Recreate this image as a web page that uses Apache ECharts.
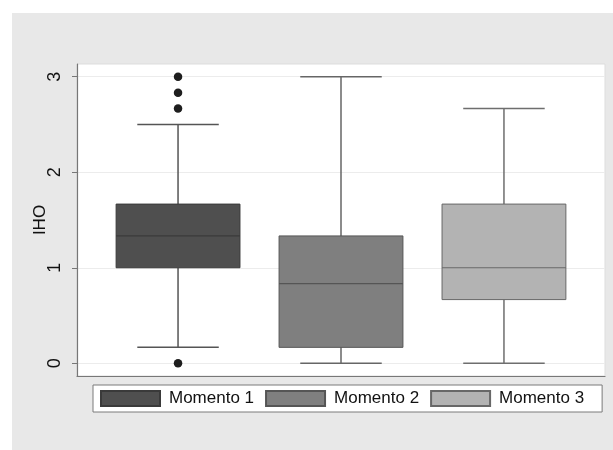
<!DOCTYPE html>
<html>
<head>
<meta charset="utf-8">
<script src="https://cdn.jsdelivr.net/npm/echarts@6/dist/echarts.min.js"></script>
<style>html,body{margin:0;padding:0;background:#fff}#c{width:613px;height:450px}</style>
</head>
<body>
<div id="c"></div>
<script>
// ---- data ----
const seriesNames = ['Momento 1', 'Momento 2', 'Momento 3'];
const boxPositions = [1, 2, 3];
// [min whisker, Q1, median, Q3, max whisker]
const momento1 = [0.1667, 1.0, 1.3333, 1.6667, 2.5];
const momento2 = [0.0, 0.1667, 0.8333, 1.3333, 3.0];
const momento3 = [0.0, 0.6667, 1.0, 1.6667, 2.6667];
const outliers1 = [3.0, 2.8333, 2.6667, 0.0];
const yTicks = [0, 1, 2, 3];
const yAxisName = 'IHO';

const boxStats = [momento1, momento2, momento3];
const fills = ['#4f4f4f', '#7f7f7f', '#b3b3b3'];
const strokes = ['#3a3a3a', '#555555', '#686868'];
const whiskerColors = ['#555555', '#666666', '#6e6e6e'];
const BOX_W = 0.76, CAP_W = 0.5;

function makeRender(i) {
  return function (params, api) {
    const x = api.value(0);
    const c = v => api.coord([x, v]);
    const xc = c(api.value(1))[0];
    const half = api.size([BOX_W, 0])[0] / 2;
    const capHalf = api.size([CAP_W, 0])[0] / 2;
    const yMin = c(api.value(1))[1], yQ1 = c(api.value(2))[1], yMed = c(api.value(3))[1],
          yQ3 = c(api.value(4))[1], yMax = c(api.value(5))[1];
    const wl = { stroke: whiskerColors[i], lineWidth: 1.5 };
    return {
      type: 'group',
      children: [
        { type: 'line', shape: { x1: xc, y1: yQ3, x2: xc, y2: yMax }, style: wl },
        { type: 'line', shape: { x1: xc, y1: yQ1, x2: xc, y2: yMin }, style: wl },
        { type: 'line', shape: { x1: xc - capHalf, y1: yMax, x2: xc + capHalf, y2: yMax }, style: wl },
        { type: 'line', shape: { x1: xc - capHalf, y1: yMin, x2: xc + capHalf, y2: yMin }, style: wl },
        { type: 'rect', shape: { x: xc - half, y: yQ3, width: half * 2, height: yQ1 - yQ3 },
          style: { fill: fills[i], stroke: strokes[i], lineWidth: 1 } },
        { type: 'line', shape: { x1: xc - half, y1: yMed, x2: xc + half, y2: yMed },
          style: { stroke: strokes[i], lineWidth: 1.2 } }
      ]
    };
  };
}

const series = seriesNames.map((name, i) => ({
  name: name,
  type: 'custom',
  renderItem: makeRender(i),
  itemStyle: { color: fills[i], borderColor: strokes[i], borderWidth: 1 },
  encode: { x: 0, y: [1, 2, 3, 4, 5] },
  data: [[boxPositions[i]].concat(boxStats[i])],
  z: 2
}));
series.push({
  name: 'outliers',
  type: 'scatter',
  symbol: 'circle',
  symbolSize: 8.5,
  itemStyle: { color: '#1e1e1e', opacity: 1 },
  data: outliers1.map(v => [boxPositions[0], v]),
  z: 3
});

const chart = echarts.init(document.getElementById('c'), null, { renderer: 'canvas' });
chart.setOption({
  backgroundColor: '#ffffff',
  animation: false,
  textStyle: { fontFamily: 'Liberation Sans, Arial, sans-serif' },
  graphic: [{
    type: 'rect', z: -100, silent: true,
    shape: { x: 12, y: 13, width: 601, height: 437 },
    style: { fill: '#e8e8e8' }
  }],
  grid: {
    left: 77, right: 8, top: 64, bottom: 74,
    show: true, backgroundColor: '#ffffff', borderColor: '#dddddd', borderWidth: 1
  },
  xAxis: {
    type: 'value', min: 0.38, max: 3.62,
    axisLine: { show: true, onZero: false, lineStyle: { color: '#777777', width: 1.2 } },
    axisTick: { show: false }, axisLabel: { show: false }, splitLine: { show: false }
  },
  yAxis: {
    type: 'value', min: -0.1333, max: 3.1333,
    name: yAxisName, nameLocation: 'middle', nameGap: 28, nameRotate: 90, nameMoveOverlap: false,
    nameTextStyle: { fontSize: 17, color: '#111111' },
    axisLine: { show: true, lineStyle: { color: '#777777', width: 1.2 } },
    axisTick: { show: true, length: 5, customValues: yTicks, lineStyle: { color: '#777777' } },
    axisLabel: { customValues: yTicks, rotate: 90, fontSize: 18, color: '#111111', margin: 13 },
    splitLine: { show: true, lineStyle: { color: '#ececec', width: 1 } }
  },
  legend: {
    data: seriesNames,
    left: 93, top: 385,
    icon: 'rect',
    itemWidth: 59, itemHeight: 15, itemGap: 11,
    padding: [5, 18, 5, 7],
    backgroundColor: '#ffffff', borderColor: '#7a7a7a', borderWidth: 1, borderRadius: 0,
    textStyle: { fontSize: 17, color: '#111111', padding: [0, 0, 0, 4] }
  },
  series: series
});
</script>
</body>
</html>
